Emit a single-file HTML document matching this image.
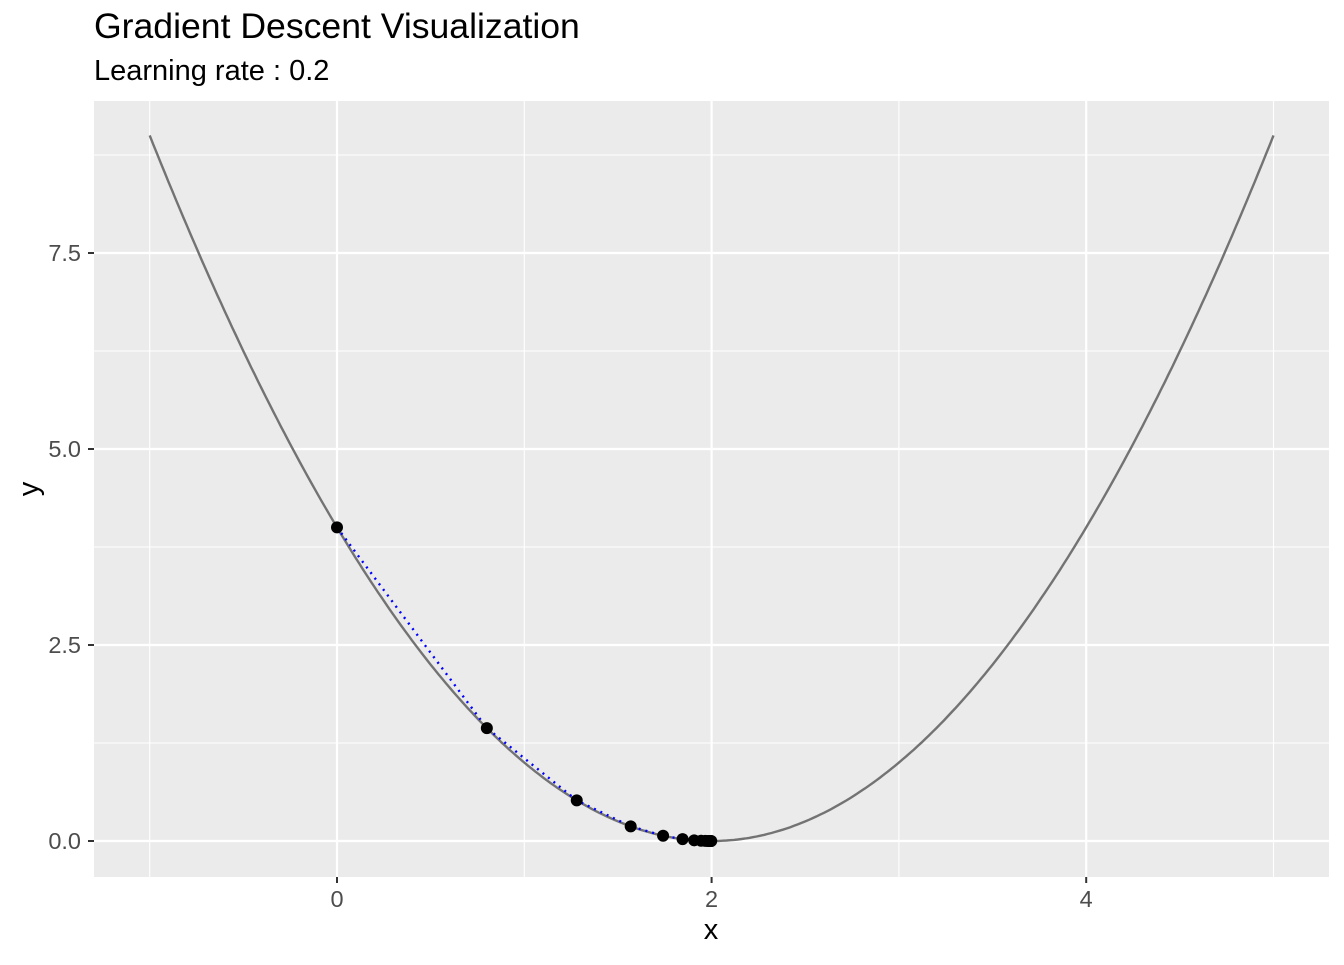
<!DOCTYPE html>
<html><head><meta charset="utf-8"><style>
body{margin:0;background:#fff;font-family:"Liberation Sans",sans-serif}
svg text{font-family:"Liberation Sans",sans-serif}
</style></head><body>
<svg id="c" width="1344" height="960">
<text x="94" y="38" font-size="35.6" fill="#000">Gradient Descent Visualization</text>
<text x="94" y="80" font-size="29" fill="#000">Learning rate : 0.2</text>
<rect x="94" y="101" width="1235" height="776" fill="#ebebeb"/>
<g id="grid"></g>
<g id="marks"></g>
<g id="axes"></g>
<text x="711" y="939" font-size="29" text-anchor="middle" fill="#000">x</text>
<text x="38" y="489" font-size="29" text-anchor="middle" fill="#000" transform="rotate(-90 38 489)">y</text>
</svg>
<script>
const xTicks=[0,2,4];
const xMinor=[-1,1,3,5];
const yTicks=[0,2.5,5,7.5];
const yTickLabels=["0.0","2.5","5.0","7.5"];
const yMinor=[1.25,3.75,6.25,8.75];
const stepX=[0,0.8,1.28,1.568,1.741,1.845,1.907,1.944,1.966,1.98,1.988,1.993,1.996,1.998];
const stepY=[4,1.44,0.518,0.187,0.067,0.024,0.0087,0.0031,0.0011,0.0004,0.00014,0.00005,0.00002,0.000006];
const curveRange=[-1,5];
const X=v=>337+v*187.3, Y=v=>841-v*78.4;
const NS="http://www.w3.org/2000/svg";
function mk(p,t,a){const e=document.createElementNS(NS,t);for(const k in a)e.setAttribute(k,a[k]);p.appendChild(e);return e;}
const g=document.getElementById('grid'),m=document.getElementById('marks'),ax=document.getElementById('axes');
xMinor.forEach(v=>{const l=mk(g,'line',{x1:X(v),x2:X(v),y1:101,y2:877,stroke:'#fff','stroke-width':1.1});

});
yMinor.forEach(v=>{const l=mk(g,'line',{x1:94,x2:1329,y1:Y(v),y2:Y(v),stroke:'#fff','stroke-width':1.1});

});
xTicks.forEach(v=>{const l=mk(g,'line',{x1:X(v),x2:X(v),y1:101,y2:877,stroke:'#fff','stroke-width':2.2});


const t=mk(ax,'line',{x1:X(v),x2:X(v),y1:877,y2:883,stroke:'#333','stroke-width':2});


const s=mk(ax,'text',{x:X(v),y:907,'font-size':23.5,'text-anchor':'middle',fill:'#4d4d4d'});s.textContent=v;

});
yTicks.forEach((v,i)=>{const l=mk(g,'line',{x1:94,x2:1329,y1:Y(v),y2:Y(v),stroke:'#fff','stroke-width':2.2});


const t=mk(ax,'line',{x1:88,x2:94,y1:Y(v),y2:Y(v),stroke:'#333','stroke-width':2});


const s=mk(ax,'text',{x:81,y:Y(v)+8,'font-size':23.5,'text-anchor':'end',fill:'#4d4d4d'});s.textContent=yTickLabels[i];

});
let d='';for(let i=0;i<=300;i++){const x=curveRange[0]+(curveRange[1]-curveRange[0])*i/300;d+=(i?'L':'M')+X(x).toFixed(1)+','+Y((x-2)*(x-2)).toFixed(1);}
const c=mk(m,'path',{d:d,fill:'none',stroke:'#737373','stroke-width':2.4});


const pl=mk(m,'polyline',{points:stepX.map((x,i)=>X(x)+','+Y(stepY[i])).join(' '),fill:'none',stroke:'#0000ff','stroke-width':2.4,'stroke-dasharray':'2 5'});


stepX.forEach((x,i)=>{const p=mk(m,'circle',{cx:X(x),cy:Y(stepY[i]),r:6,fill:'#000'});

});
</script>
</body></html>
